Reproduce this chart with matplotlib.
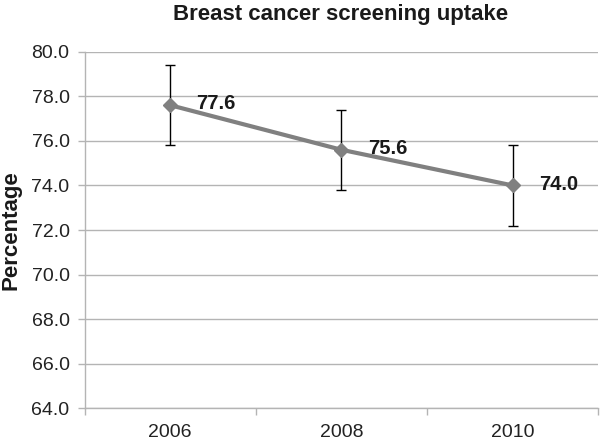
import matplotlib
matplotlib.use("Agg")
import matplotlib.pyplot as plt

# data
years = ["2006", "2008", "2010"]
uptake = [77.6, 75.6, 74.0]
err = [1.8, 1.8, 1.8]
yticks = [64, 66, 68, 70, 72, 74, 76, 78, 80]

plt.rcParams['font.family'] = ['Liberation Sans', 'DejaVu Sans']

fig = plt.figure(figsize=(6, 4.43), dpi=100)
ax = fig.add_axes([0.141, 0.0783, 0.856, 0.805])

x = list(range(1, len(years) + 1))

# light horizontal gridlines
ax.set_yticks(yticks)
ax.yaxis.grid(True, color='#b4b4b4', linewidth=1.0)
ax.set_axisbelow(True)

# error bars, then the line with diamonds on top
ax.errorbar(x, uptake, yerr=err, fmt='none', ecolor='black', elinewidth=1.0,
            capsize=3.6, capthick=1.0, zorder=3)
ax.plot(x, uptake, color='#808080', linewidth=3.0, marker='D', markersize=7.5,
        markerfacecolor='#808080', markeredgecolor='#808080', zorder=4)

# value labels to the right of each point
for xi, v in zip(x, uptake):
    ax.annotate(f"{v:.1f}", (xi, v), xytext=(19, 1), textcoords='offset points',
                ha='left', va='center', fontsize=14.5, fontweight='bold',
                color='#1a1a1a')

ax.set_ylim(64, 80)
ax.set_xlim(0.5, len(years) + 0.5)
ax.set_yticklabels([f"{t:.1f}" for t in yticks], fontsize=14, color='#222222')

# category ticks between categories, labels in the middle
ax.set_xticks([i + 0.5 for i in range(len(years) + 1)])
ax.set_xticklabels([])
ax.set_xticks(x, minor=True)
ax.set_xticklabels(years, minor=True, fontsize=14, color='#222222')
ax.tick_params(axis='x', which='major', length=5, color='#b4b4b4', width=1.0)
ax.tick_params(axis='x', which='minor', length=0, pad=11)
ax.tick_params(axis='y', length=5, color='#b4b4b4', width=1.0, pad=5.8)

for side in ['top', 'right']:
    ax.spines[side].set_visible(False)
for side in ['left', 'bottom']:
    ax.spines[side].set_color('#b4b4b4')
    ax.spines[side].set_linewidth(1.0)

fig.text(11 / 600, 1 - 230 / 443, "Percentage", rotation=90, ha='center',
         va='center', fontsize=16, fontweight='bold', color='#1a1a1a')
fig.text(0.568, 1 - 20 / 443, "Breast cancer screening uptake", ha='center',
         va='baseline', fontsize=16, fontweight='bold', color='#1a1a1a')

fig.savefig("out.png", dpi=100)
